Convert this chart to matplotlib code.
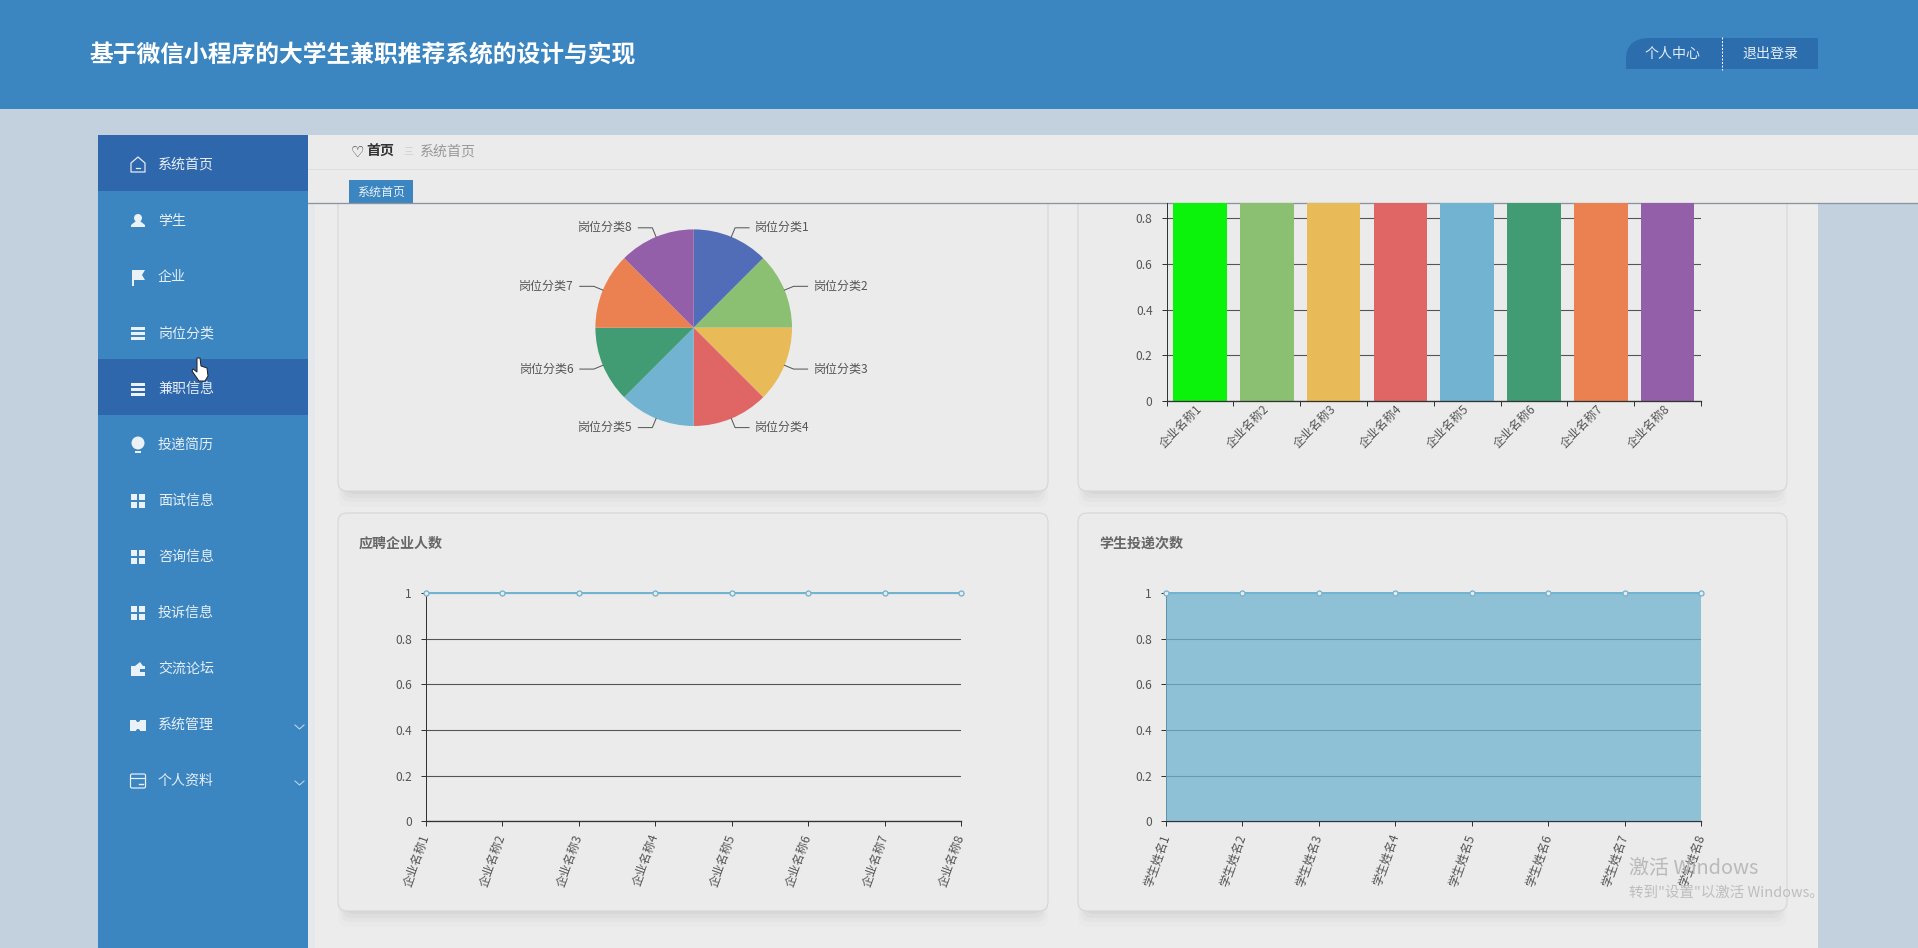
import matplotlib

matplotlib.use("Agg")

import matplotlib.pyplot as plt
import numpy as np
from matplotlib.patches import Circle, FancyBboxPatch, PathPatch, Polygon, Rectangle
from matplotlib.path import Path as MplPath


W, H = 1918, 948

APP_TITLE = "基于微信小程序的大学生兼职推荐系统的设计与实现"
MENU_ITEMS = ["系统首页", "学生", "企业", "岗位分类", "兼职信息", "投递简历", "面试信息",
              "咨询信息", "投诉信息", "交流论坛", "系统管理", "个人资料"]
MENU_ICONS = ["home", "person", "flag", "lines", "lines2", "bulb", "grid",
              "grid", "grid", "wallet", "ticket", "card"]
ACTIVE_ITEMS = [0, 4]

PIE_LABELS = ["岗位分类1", "岗位分类2", "岗位分类3", "岗位分类4",
              "岗位分类5", "岗位分类6", "岗位分类7", "岗位分类8"]
PIE_VALUES = [1, 1, 1, 1, 1, 1, 1, 1]
BAR_LABELS = ["企业名称1", "企业名称2", "企业名称3", "企业名称4",
              "企业名称5", "企业名称6", "企业名称7", "企业名称8"]
BAR_VALUES = [1, 1, 1, 1, 1, 1, 1, 1]
LINE_VALUES = [1, 1, 1, 1, 1, 1, 1, 1]
AREA_LABELS = ["学生姓名1", "学生姓名2", "学生姓名3", "学生姓名4",
               "学生姓名5", "学生姓名6", "学生姓名7", "学生姓名8"]
AREA_VALUES = [1, 1, 1, 1, 1, 1, 1, 1]
Y_TICKS = [0, 0.2, 0.4, 0.6, 0.8, 1]
Y_TICK_LABELS = ["0", "0.2", "0.4", "0.6", "0.8", "1"]

PIE_COLORS = ["#516DB8", "#8BBF72", "#E8BB58", "#E06666", "#71B3D0", "#419C73", "#EB8050", "#945FA9"]
BAR_COLORS = ["#0BF20B", "#8BBF72", "#E8BB58", "#E06666", "#71B3D0", "#419C73", "#EB8050", "#945FA9"]

BLUE = "#3B85C1"
DARK_BLUE = "#2F67AD"
PAGE = "#C3D1DF"
PANEL = "#EBEBEB"
SERIES = "#71B3D0"
TEXT = "#555555"
AXIS = "#333333"

PX = 0.72  # points per pixel at dpi 100

plt.rcParams["font.family"] = ["Noto Sans CJK SC", "DejaVu Sans"]


def px_axes(fig, x0, y0, x1, y1, zorder=2):
    ax = fig.add_axes([x0 / W, 1 - y1 / H, (x1 - x0) / W, (y1 - y0) / H], zorder=zorder)
    ax.patch.set_alpha(0)
    return ax


def label(ax, x, y, s, size, color=TEXT, ha="left", **kw):
    ax.text(x, y, s, fontsize=size * PX, color=color, ha=ha, va="center", **kw)


def draw_card(ax, x0, y0, x1, y1):
    for grow, alpha in zip([16, 11, 7, 3], [0.012, 0.018, 0.025, 0.03]):
        ax.add_patch(FancyBboxPatch((x0 + 8 - grow / 2, y0 + 8), x1 - x0 - 16 + grow, y1 - y0 + grow - 8,
                                    boxstyle="round,pad=0,rounding_size=10",
                                    fc="black", ec="none", alpha=alpha))
    ax.add_patch(FancyBboxPatch((x0, y0), x1 - x0, y1 - y0, boxstyle="round,pad=0,rounding_size=9",
                                fc=PANEL, ec="#D5D6D7", lw=1.1 * PX))


def draw_icon(ax, kind, cx, cy):
    c = "#EAF1F7"
    if kind == "home":
        ax.add_patch(Polygon([(cx - 7, cy - 2), (cx, cy - 8), (cx + 7, cy - 2), (cx + 7, cy + 7), (cx - 7, cy + 7)],
                             fc="none", ec=c, lw=1.2 * PX, joinstyle="round"))
        ax.plot([cx - 2, cx + 2], [cy + 3, cy + 3], color=c, lw=1.2 * PX)
    elif kind == "person":
        ax.add_patch(Circle((cx, cy - 3), 4, fc=c, ec="none"))
        ax.add_patch(Polygon([(cx - 2, cy), (cx + 2, cy), (cx + 7, cy + 4), (cx + 7, cy + 6), (cx - 7, cy + 6), (cx - 7, cy + 4)],
                             fc=c, ec="none"))
    elif kind == "flag":
        ax.add_patch(Rectangle((cx - 6, cy - 7), 2, 16, fc=c, ec="none"))
        ax.add_patch(Polygon([(cx - 4, cy - 7), (cx + 7, cy - 7), (cx + 4, cy - 2), (cx + 7, cy + 3), (cx - 4, cy + 3)],
                             fc=c, ec="none"))
    elif kind in ("lines", "lines2"):
        for dy in (-6, -1, 4):
            ax.add_patch(Rectangle((cx - 7, cy + dy), 14, 2.6, fc=c, ec="none"))
    elif kind == "bulb":
        ax.add_patch(Circle((cx, cy - 2), 6.5, fc=c, ec="none"))
        ax.add_patch(Rectangle((cx - 3, cy + 6), 6, 2, fc=c, ec="none"))
    elif kind == "grid":
        for dx in (-7, 1):
            for dy in (-7, 1):
                ax.add_patch(Rectangle((cx + dx, cy + dy), 6, 6, fc=c, ec="none"))
    elif kind == "wallet":
        ax.add_patch(Rectangle((cx - 7, cy - 3), 14, 10, fc=c, ec="none"))
        ax.add_patch(Polygon([(cx - 3, cy - 3), (cx + 2, cy - 7), (cx + 5, cy - 3)], fc=c, ec="none"))
        ax.add_patch(Rectangle((cx + 2, cy), 5, 3, fc=BLUE, ec="none"))
    elif kind == "ticket":
        ax.add_patch(Rectangle((cx - 8, cy - 5), 16, 11, fc=c, ec="none"))
        ax.add_patch(Circle((cx, cy - 5), 2, fc=BLUE, ec="none"))
        ax.add_patch(Circle((cx, cy + 6), 2, fc=BLUE, ec="none"))
    elif kind == "card":
        ax.add_patch(FancyBboxPatch((cx - 7.5, cy - 7), 15, 14, boxstyle="round,pad=0,rounding_size=1.5",
                                    fc="none", ec=c, lw=1.2 * PX))
        ax.plot([cx - 7, cx + 7], [cy - 3, cy - 3], color=c, lw=1.2 * PX)
        ax.plot([cx + 1, cx + 5], [cy + 3, cy + 3], color=c, lw=1.4 * PX)


def draw_chrome(ax):
    ax.add_patch(Rectangle((0, 0), W, H, fc=PAGE, ec="none"))
    ax.add_patch(Rectangle((0, 0), W, 109, fc=BLUE, ec="none"))
    label(ax, 89, 55, APP_TITLE, 23.8, "white", fontweight="bold")

    # top right buttons
    verts = [(1626, 69), (1626, 59), (1626, 38), (1650, 38), (1818, 38), (1818, 69), (1626, 69)]
    codes = [MplPath.MOVETO, MplPath.LINETO, MplPath.CURVE3, MplPath.CURVE3, MplPath.LINETO, MplPath.LINETO, MplPath.CLOSEPOLY]
    ax.add_patch(PathPatch(MplPath(verts, codes), fc="#2C6DAE", ec="none"))
    ax.plot([1721.5, 1721.5], [37, 70], color="white", lw=1 * PX, ls=(0, (2, 1.5)))
    label(ax, 1673, 54, "个人中心", 14, "#E2EEF7", ha="center")
    label(ax, 1770, 54, "退出登录", 14, "#E2EEF7", ha="center")

    # content area
    ax.add_patch(Rectangle((308, 135), 1510, H - 135, fc="#ECECEC", ec="none"))
    ax.add_patch(Rectangle((308, 203), 7, H - 203, fc="#E6E9EC", ec="none"))

    draw_card(ax, 338, 150, 1048, 491)
    draw_card(ax, 1078, 150, 1787, 491)
    draw_card(ax, 338, 513, 1048, 911)
    draw_card(ax, 1078, 513, 1787, 911)
    label(ax, 359, 544, "应聘企业人数", 14, "#666666", fontweight="bold")
    label(ax, 1099, 544, "学生投递次数", 14, "#666666", fontweight="bold")

    # breadcrumb bar, overlaps the scrolled cards
    ax.add_patch(Rectangle((308, 135), W - 308, 68, fc=PANEL, ec="none"))
    ax.plot([308, W], [169, 169], color="#DEDEDE", lw=1 * PX)
    ax.plot([308, W], [203, 203], color="#8A93A0", lw=1.3 * PX)
    ax.text(357, 152, "♡", fontsize=15 * PX, color="#333333", ha="center", va="center", family="DejaVu Sans")
    label(ax, 366, 152, "首页", 14, "#333333", fontweight="bold")
    label(ax, 408, 152, "三", 10, "#CFCFCF", ha="center")
    label(ax, 420, 152, "系统首页", 14, "#999999")
    ax.add_patch(Rectangle((349, 180), 64, 23, fc=BLUE, ec="none"))
    label(ax, 381, 192, "系统首页", 12, "#E8F0F6", ha="center")

    # sidebar
    ax.add_patch(Rectangle((98, 135), 210, H - 135, fc=BLUE, ec="none"))
    for i, (name, icon) in enumerate(zip(MENU_ITEMS, MENU_ICONS)):
        top = 135 + 56 * i
        if i in ACTIVE_ITEMS:
            ax.add_patch(Rectangle((98, top), 210, 56, fc=DARK_BLUE, ec="none"))
        draw_icon(ax, icon, 138, top + 30)
        label(ax, 158, top + 30, name, 14, "#E8F0F6")
        if name in ("系统管理", "个人资料"):
            ax.plot([295, 299.5, 304], [top + 30, top + 34, top + 30], color="#BCD6EA", lw=1.1 * PX)


def style_axis(ax, y_top=1.0):
    ax.set_ylim(0, y_top)
    ax.set_yticks([t for t in Y_TICKS if t <= y_top])
    ax.set_yticklabels([s for t, s in zip(Y_TICKS, Y_TICK_LABELS) if t <= y_top])
    ax.grid(axis="y", color=TEXT, lw=1.1 * PX)
    ax.set_axisbelow(True)
    ax.spines["top"].set_visible(False)
    ax.spines["right"].set_visible(False)
    ax.spines["left"].set_color(AXIS)
    ax.spines["bottom"].set_color(AXIS)
    ax.spines["left"].set_linewidth(1 * PX)
    ax.spines["bottom"].set_linewidth(1.3 * PX)
    ax.tick_params(axis="y", length=5 * PX, width=1 * PX, color=AXIS, labelsize=12 * PX,
                   labelcolor=TEXT, pad=9 * PX)


def style_x_labels(ax, labels, rotation, pad):
    for tick_label, text in zip(ax.get_xticklabels(which="major"), labels):
        tick_label.set_text(text)
    ax.set_xticklabels(labels, rotation=rotation, ha="right", va="center", rotation_mode="anchor",
                       fontsize=12 * PX, color=TEXT)
    ax.tick_params(axis="x", length=5 * PX, width=1 * PX, color=AXIS, pad=pad)


def draw_pie(fig):
    cx, cy, r = 693.7, 327.7, 98.3
    half = 190
    ax = px_axes(fig, cx - half, cy - half, cx + half, cy + half)
    ax.pie(PIE_VALUES, colors=PIE_COLORS, startangle=90, counterclock=False, radius=1, center=(0, 0),
           wedgeprops={"linewidth": 0})
    ax.set_xlim(-half / r, half / r)
    ax.set_ylim(-half / r, half / r)
    ax.set_aspect("equal")
    total = sum(PIE_VALUES)
    start = 0
    for value, name in zip(PIE_VALUES, PIE_LABELS):
        theta = np.deg2rad((start + value / 2) / total * 360)
        start += value
        sx, cs = np.sin(theta), np.cos(theta)
        side = 1 if sx > 0 else -1
        ex, ey = 1.10 * sx, 1.10 * cs
        ax.plot([sx, ex, ex + side * 14 / r], [cs, ey, ey], color=TEXT, lw=1 * PX)
        ax.text(ex + side * 20 / r, ey, name, fontsize=12 * PX, color=TEXT, va="center",
                ha="left" if side > 0 else "right")


def draw_bars(fig):
    x0, x1, y_base = 1166.6, 1701, 401.3
    y_top = (y_base - 203) / 229
    ax = px_axes(fig, x0, 203, x1, y_base)
    x = np.arange(len(BAR_VALUES))
    ax.bar(x, BAR_VALUES, width=0.8, color=BAR_COLORS, linewidth=0)
    ax.set_xlim(-0.5, len(BAR_VALUES) - 0.5)
    style_axis(ax, y_top)
    ax.set_xticks(x)
    style_x_labels(ax, BAR_LABELS, 45, 4)
    ax.tick_params(axis="x", length=0)
    ax.set_xticks(np.arange(len(BAR_VALUES) + 1) - 0.5, minor=True)
    ax.tick_params(axis="x", which="minor", length=5 * PX, width=1 * PX, color=AXIS)


def draw_line(fig):
    ax = px_axes(fig, 426, 593, 961.3, 821.3)
    x = np.arange(len(LINE_VALUES))
    ax.plot(x, LINE_VALUES, color=SERIES, lw=2 * PX, marker="o", ms=5 * PX, mfc=PANEL, mec=SERIES,
            mew=1.3 * PX, clip_on=False, zorder=5)
    ax.set_xlim(0, len(LINE_VALUES) - 1)
    style_axis(ax)
    ax.set_xticks(x)
    style_x_labels(ax, BAR_LABELS, 70, 6)


def draw_area(fig):
    ax = px_axes(fig, 1166, 593, 1701, 821.3)
    x = np.arange(len(AREA_VALUES))
    ax.fill_between(x, 0, AREA_VALUES, color=SERIES, alpha=0.75, linewidth=0, zorder=3)
    ax.plot(x, AREA_VALUES, color=SERIES, lw=2 * PX, marker="o", ms=5 * PX, mfc=PANEL, mec=SERIES,
            mew=1.3 * PX, clip_on=False, zorder=5)
    ax.set_xlim(0, len(AREA_VALUES) - 1)
    style_axis(ax)
    ax.set_xticks(x)
    style_x_labels(ax, AREA_LABELS, 70, 6)


def draw_overlay(ax):
    # mouse cursor
    hand = [(197, 358), (200, 358), (201, 366), (207, 368), (208, 376), (205, 381), (199, 381),
            (192, 371), (193, 369), (197, 372)]
    ax.add_patch(Polygon(hand, fc="white", ec="#222222", lw=1 * PX, zorder=5))
    # windows activation watermark
    label(ax, 1629, 869, "激活 Windows", 20, "#B4B4B4", alpha=0.9)
    label(ax, 1629, 893, "转到\"设置\"以激活 Windows。", 14.5, "#B9B9B9", alpha=0.9)


def main():
    fig = plt.figure(figsize=(W / 100, H / 100), dpi=100)

    chrome = px_axes(fig, 0, 0, W, H, zorder=0)
    chrome.set_xlim(0, W)
    chrome.set_ylim(H, 0)
    chrome.axis("off")
    draw_chrome(chrome)

    draw_pie(fig)
    draw_bars(fig)
    draw_line(fig)
    draw_area(fig)

    top = px_axes(fig, 0, 0, W, H, zorder=10)
    top.set_xlim(0, W)
    top.set_ylim(H, 0)
    top.axis("off")
    draw_overlay(top)

    fig.savefig("out.png", dpi=100)


if __name__ == "__main__":
    main()
